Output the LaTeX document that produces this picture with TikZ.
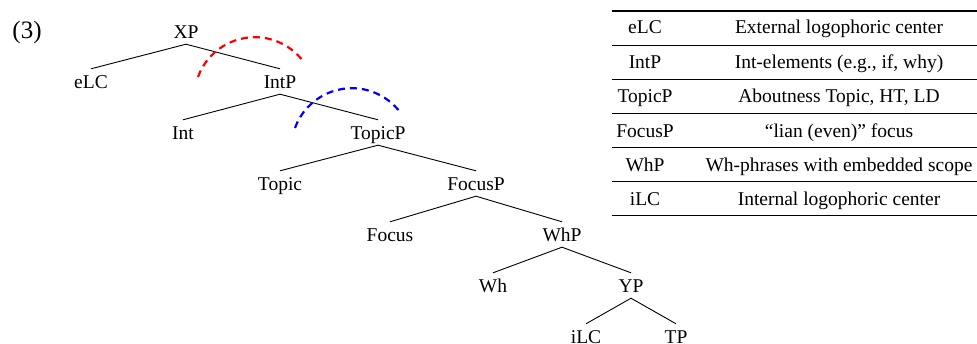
\documentclass[tikz,border=0pt]{standalone}
\usepackage{fontspec}
\setmainfont{Liberation Serif}
\begin{document}
\begin{tikzpicture}[x=1pt,y=1pt,
  every node/.style={font=\fontsize{19.5}{23}\selectfont},
  tn/.style={anchor=base, inner xsep=1pt, inner ysep=4pt, text height=15pt, text depth=2pt},
  br/.style={line width=0.9pt},
  cell/.style={anchor=base, inner sep=0pt},
  thickrule/.style={line width=1.5pt},
  thinrule/.style={line width=0.9pt},
  movearc/.style={dash pattern=on 7pt off 5pt, line width=2.2pt}]
\useasboundingbox (0,0) rectangle (977,-343);
% example number
\node[cell, font=\fontsize{25}{29}\selectfont] (num) at (27,-38) {(3)};
% tree
\node[tn] (XP) at (186,-38) {XP};
\node[tn] (eLC) at (91,-88) {eLC};
\node[tn] (IntP) at (280,-88) {IntP};
\node[tn] (Int) at (183,-139) {Int};
\node[tn] (TopicP) at (378,-139) {TopicP};
\node[tn] (Topic) at (280,-190) {Topic};
\node[tn] (FocusP) at (476,-190) {FocusP};
\node[tn] (Focus) at (390,-241) {Focus};
\node[tn] (WhP) at (562,-241) {WhP};
\node[tn] (Wh) at (493,-292) {Wh};
\node[tn] (YP) at (631,-292) {YP};
\node[tn] (iLC) at (586,-343) {iLC};
\node[tn] (TP) at (676,-343) {TP};
\draw[br] (eLC.north) -- (XP.south) -- (IntP.north);
\draw[br] (Int.north) -- (IntP.south) -- (TopicP.north);
\draw[br] (Topic.north) -- (TopicP.south) -- (FocusP.north);
\draw[br] (Focus.north) -- (FocusP.south) -- (WhP.north);
\draw[br] (Wh.north) -- (WhP.south) -- (YP.north);
\draw[br] (iLC.north) -- (YP.south) -- (TP.north);
% movement arcs
\coordinate (redstart) at (198,-77);
\coordinate (bluestart) at (295,-128);
\draw[movearc, red] (redstart) arc[start angle=160, end angle=36, radius=60.5pt];
\draw[movearc, blue] (bluestart) arc[start angle=160, end angle=36, radius=60.5pt];
% table
\def\tl{612}\def\tr{980}
\draw[thickrule] (\tl,-11) -- (\tr,-11);
\draw[thinrule] (\tl,-45) -- (\tr,-45);
\draw[thinrule] (\tl,-79) -- (\tr,-79);
\draw[thinrule] (\tl,-113) -- (\tr,-113);
\draw[thinrule] (\tl,-147) -- (\tr,-147);
\draw[thinrule] (\tl,-181) -- (\tr,-181);
\draw[thickrule] (\tl,-215.5) -- (\tr,-215.5);
\node[cell] (k1) at (645,-33.5) {eLC};
\node[cell] (v1) at (839,-33.5) {External logophoric center};
\node[cell] (k2) at (645,-68) {IntP};
\node[cell] (v2) at (839,-68) {Int-elements (e.g., if, why)};
\node[cell] (k3) at (645,-102.5) {TopicP};
\node[cell] (v3) at (839,-102.5) {Aboutness Topic, HT, LD};
\node[cell] (k4) at (645,-137) {FocusP};
\node[cell] (v4) at (839,-137) {``lian (even)'' focus};
\node[cell] (k5) at (645,-171.5) {WhP};
\node[cell] (v5) at (839,-171.5) {Wh-phrases with embedded scope};
\node[cell] (k6) at (645,-205) {iLC};
\node[cell] (v6) at (839,-205) {Internal logophoric center};
\end{tikzpicture}
\end{document}
